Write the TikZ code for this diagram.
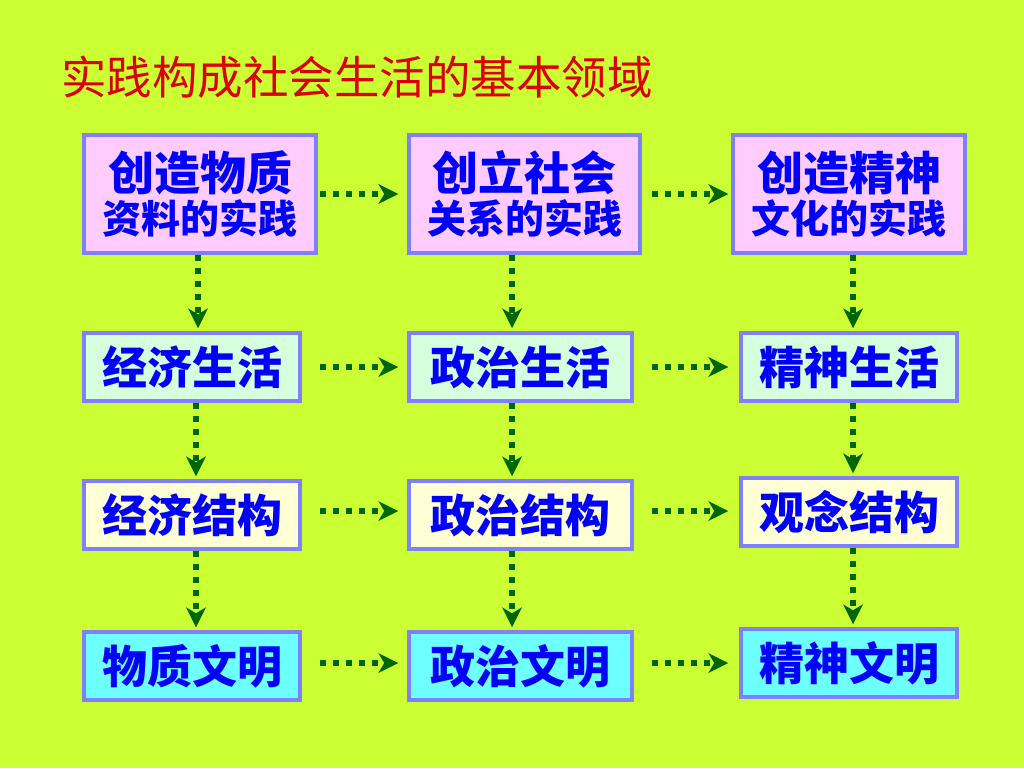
\documentclass[tikz,border=0pt]{standalone}
\usepackage{fontspec}
\newfontfamily\cjk{Noto Sans CJK SC}
\usetikzlibrary{arrows.meta}
\definecolor{bgyellow}{RGB}{204,255,51}
\definecolor{boxline}{RGB}{128,128,255}
\definecolor{txtblue}{RGB}{0,0,255}
\definecolor{flowgreen}{RGB}{0,102,0}
\definecolor{pinkfill}{RGB}{255,204,255}
\definecolor{mintfill}{RGB}{214,255,222}
\definecolor{creamfill}{RGB}{255,255,214}
\definecolor{cyanfill}{RGB}{110,255,255}
\tikzset{
  box/.style={draw=boxline, line width=3.5pt, inner sep=0pt, align=center,
    text=txtblue, font=\cjk\bfseries\fontsize{45}{48}\selectfont},
  flow/.style={draw=flowgreen, line width=6pt, dash pattern=on 6pt off 7pt,
    -{Stealth[length=20pt,width=20pt,inset=6pt,line width=0pt]}},
}
\begin{document}
\begin{tikzpicture}[x=1pt,y=1pt,yscale=-1,xscale=1]
%background, sets the picture to 1024 x 768
\fill [bgyellow] (0,0) rectangle (1024,768);
\useasboundingbox (0,0) rectangle (1024,768);

% Title
\node (title) at (61,77) [anchor=west][inner sep=0pt][text={rgb,255:red,220;green,0;blue,0}] {\cjk\fontsize{45.5}{50}\selectfont 实践构成社会生活的基本领域};

% row 1: practice
\node (pm) [box, fill=pinkfill, minimum width=232, minimum height=118] at (200,194) {\fontsize{46}{48}\selectfont 创造物质\\[-5pt]\fontsize{39}{44}\selectfont 资料的实践};
\node (ps) [box, fill=pinkfill, minimum width=231, minimum height=118] at (524.5,194) {\fontsize{46}{48}\selectfont 创立社会\\[-5pt]\fontsize{39}{44}\selectfont 关系的实践};
\node (pc) [box, fill=pinkfill, minimum width=232, minimum height=118] at (849,194) {\fontsize{46}{48}\selectfont 创造精神\\[-5pt]\fontsize{39}{44}\selectfont 文化的实践};
% row 2: life
\node (lm) [box, fill=mintfill, minimum width=216, minimum height=68] at (192,367) {经济生活};
\node (ls) [box, fill=mintfill, minimum width=223, minimum height=68] at (520.5,367) {政治生活};
\node (lc) [box, fill=mintfill, minimum width=216, minimum height=68] at (849,367) {精神生活};
% row 3: structure
\node (sm) [box, fill=creamfill, minimum width=216, minimum height=68] at (192,515) {经济结构};
\node (ss) [box, fill=creamfill, minimum width=223, minimum height=68] at (520.5,515) {政治结构};
\node (sc) [box, fill=creamfill, minimum width=216, minimum height=68] at (849,512) {观念结构};
% row 4: civilisation
\node (cm) [box, fill=cyanfill, minimum width=216, minimum height=68] at (192,666) {物质文明};
\node (cs) [box, fill=cyanfill, minimum width=223, minimum height=68] at (520.5,666) {政治文明};
\node (cc) [box, fill=cyanfill, minimum width=216, minimum height=68] at (849,663) {精神文明};

% horizontal arrows
\draw [flow] ([xshift=2]pm.east) -- ([xshift=-9]ps.west);
\draw [flow] ([xshift=10]ps.east) -- ([xshift=-3]pc.west);
\draw [flow] ([xshift=18]lm.east) -- ([xshift=-9]ls.west);
\draw [flow] ([xshift=18]ls.east) -- ([xshift=-11]lc.west);
\draw [flow] ([xshift=18,yshift=-4]sm.east) -- ([xshift=-9,yshift=-4]ss.west);
\draw [flow] ([xshift=18,yshift=-4]ss.east) -- ([xshift=-11,yshift=-1]sc.west);
\draw [flow] ([xshift=18,yshift=-3]cm.east) -- ([xshift=-9,yshift=-3]cs.west);
\draw [flow] ([xshift=18,yshift=-3]cs.east) -- ([xshift=-11]cc.west);

% vertical arrows
\draw [flow] ([xshift=-2]pm.south) -- ([xshift=6,yshift=-3]lm.north);
\draw [flow] ([xshift=4]lm.south) -- ([xshift=4,yshift=-3]sm.north);
\draw [flow] ([xshift=4]sm.south) -- ([xshift=4,yshift=-3]cm.north);
\draw [flow] ([xshift=-12.5]ps.south) -- ([xshift=-8.5,yshift=-3]ls.north);
\draw [flow] ([xshift=-8.5]ls.south) -- ([xshift=-8.5,yshift=-3]ss.north);
\draw [flow] ([xshift=-8.5]ss.south) -- ([xshift=-8.5,yshift=-3]cs.north);
\draw [flow] ([xshift=4]pc.south) -- ([xshift=4,yshift=-3]lc.north);
\draw [flow] ([xshift=4]lc.south) -- ([xshift=4,yshift=-3]sc.north);
\draw [flow] ([xshift=4]sc.south) -- ([xshift=4,yshift=-3]cc.north);

\end{tikzpicture}
\end{document}
